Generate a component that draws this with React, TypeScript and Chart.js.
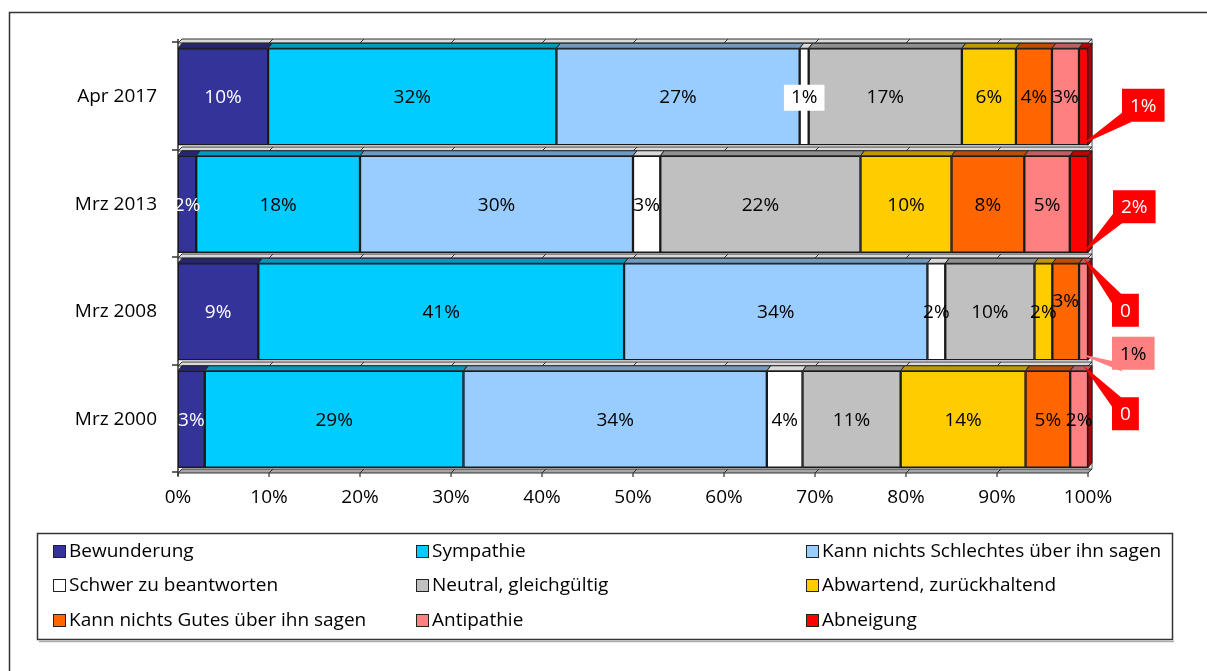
import { useEffect, useRef } from "react";
import { Chart, registerables } from "chart.js";

Chart.register(...registerables);

const categories = ["Apr 2017", "Mrz 2013", "Mrz 2008", "Mrz 2000"];

const seriesNames = [
  "Bewunderung",
  "Sympathie",
  "Kann nichts Schlechtes über ihn sagen",
  "Schwer zu beantworten",
  "Neutral, gleichgültig",
  "Abwartend, zurückhaltend",
  "Kann nichts Gutes über ihn sagen",
  "Antipathie",
  "Abneigung",
];

const seriesColors = [
  "#333399",
  "#00CCFF",
  "#99CCFF",
  "#FFFFFF",
  "#C0C0C0",
  "#FFCC00",
  "#FF6600",
  "#FF8080",
  "#FF0000",
];

// values per category (Apr 2017, Mrz 2013, Mrz 2008, Mrz 2000)
const bewunderung = [10, 2, 9, 3];
const sympathie = [32, 18, 41, 29];
const kannNichtsSchlechtes = [27, 30, 34, 34];
const schwerZuBeantworten = [1, 3, 2, 4];
const neutral = [17, 22, 10, 11];
const abwartend = [6, 10, 2, 14];
const kannNichtsGutes = [4, 8, 3, 5];
const antipathie = [3, 5, 1, 2];
const abneigung = [1, 2, 0, 0];

const seriesValues = [
  bewunderung,
  sympathie,
  kannNichtsSchlechtes,
  schwerZuBeantworten,
  neutral,
  abwartend,
  kannNichtsGutes,
  antipathie,
  abneigung,
];

const xTicks = [0, 10, 20, 30, 40, 50, 60, 70, 80, 90, 100];

const FONT = "'Open Sans', 'DejaVu Sans', sans-serif";

// callouts: series index, row index, box offset from bar right end / row center, anchor side
const callouts = [
  { s: 8, r: 0, dx: 34, dy: -8, anchor: "bottom" },
  { s: 8, r: 1, dx: 25, dy: -14, anchor: "bottom" },
  { s: 8, r: 2, dx: 24, dy: -18, anchor: "top" },
  { s: 7, r: 2, dx: 24, dy: 25, anchor: "bottom" },
  { s: 8, r: 3, dx: 24, dy: -22, anchor: "top" },
];
// labels with white background box
const boxedLabels = [{ s: 3, r: 0 }];
// labels moved vertically
const shiftedLabels = [{ s: 6, r: 2, dy: -11 }];

const legendCols = [53, 416, 806];
const legendRows = [552, 586, 621];

function fmt(v: number) {
  return v === 0 ? "0" : v + "%";
}

function darken(hex: string, f: number) {
  const n = parseInt(hex.slice(1), 16);
  const r = Math.round(((n >> 16) & 255) * f);
  const g = Math.round(((n >> 8) & 255) * f);
  const b = Math.round((n & 255) * f);
  return `rgb(${r},${g},${b})`;
}

const totals = categories.map((_, j) =>
  seriesValues.reduce((a, s) => a + s[j], 0)
);

const decorPlugin = {
  id: "decor",
  beforeDatasetsDraw(chart: any) {
    const { ctx, chartArea } = chart;
    const { left, right, top, bottom } = chartArea;
    const xs = chart.scales.x;
    const catH = (bottom - top) / categories.length;
    ctx.save();
    // outer frame (top and left edges, the rest is cut off)
    ctx.strokeStyle = "#333";
    ctx.lineWidth = 1.5;
    ctx.beginPath();
    ctx.moveTo(9.5, 671);
    ctx.lineTo(9.5, 12.5);
    ctx.lineTo(1207, 12.5);
    ctx.stroke();
    // back right edge
    ctx.strokeStyle = "#888";
    ctx.lineWidth = 1.5;
    ctx.beginPath();
    ctx.moveTo(right + 4, top - 4);
    ctx.lineTo(right + 4, bottom - 4);
    ctx.stroke();
    // strips at category boundaries
    for (let i = 0; i <= categories.length; i++) {
      const y = Math.round(top + i * catH);
      ctx.fillStyle = i === categories.length ? "#a6a6a6" : "#dadada";
      ctx.beginPath();
      ctx.moveTo(left, y);
      ctx.lineTo(left + 4, y - 4);
      ctx.lineTo(right + 4, y - 4);
      ctx.lineTo(right, y);
      ctx.closePath();
      ctx.fill();
      ctx.strokeStyle = "#333";
      ctx.lineWidth = 1;
      ctx.stroke();
      for (const t of xTicks) {
        const px = xs.getPixelForValue(t);
        ctx.beginPath();
        ctx.moveTo(px, y);
        ctx.lineTo(px + 4, y - 4);
        ctx.stroke();
      }
      // left tick
      ctx.lineWidth = 1.5;
      ctx.beginPath();
      ctx.moveTo(left - 6, y - 1);
      ctx.lineTo(left, y - 1);
      ctx.stroke();
    }
    // left axis line
    ctx.strokeStyle = "#333";
    ctx.lineWidth = 1.5;
    ctx.beginPath();
    ctx.moveTo(left, top - 4);
    ctx.lineTo(left, bottom + 3);
    ctx.stroke();
    // bottom ticks
    ctx.lineWidth = 1.2;
    for (const t of xTicks) {
      const px = xs.getPixelForValue(t);
      ctx.beginPath();
      ctx.moveTo(px, bottom);
      ctx.lineTo(px, bottom + 4);
      ctx.stroke();
    }
    ctx.restore();
  },
  afterDatasetsDraw(chart: any) {
    const { ctx } = chart;
    ctx.save();
    const d = 4;
    const h = 5;
    // top faces
    chart.data.datasets.forEach((ds: any, i: number) => {
      const meta = chart.getDatasetMeta(i);
      meta.data.forEach((el: any) => {
        const p = el.getProps(["x", "y", "base", "height"], true);
        const l = Math.min(p.base, p.x);
        const r = Math.max(p.base, p.x);
        if (r - l < 0.5) return;
        const t = p.y - p.height / 2;
        ctx.beginPath();
        ctx.moveTo(l, t);
        ctx.lineTo(l + d, t - h);
        ctx.lineTo(r + d, t - h);
        ctx.lineTo(r, t);
        ctx.closePath();
        ctx.fillStyle = darken(ds.backgroundColor, ds.backgroundColor === "#FFFFFF" ? 0.85 : 0.75);
        ctx.fill();
        ctx.strokeStyle = "#222";
        ctx.lineWidth = 1;
        ctx.stroke();
      });
    });
    // right side faces
    const lastMeta = chart.getDatasetMeta(chart.data.datasets.length - 1);
    lastMeta.data.forEach((el: any) => {
      const p = el.getProps(["x", "y", "height"], true);
      const t = p.y - p.height / 2;
      const b = p.y + p.height / 2;
      ctx.beginPath();
      ctx.moveTo(p.x, t);
      ctx.lineTo(p.x + d, t - h);
      ctx.lineTo(p.x + d, b - h);
      ctx.lineTo(p.x, b);
      ctx.closePath();
      ctx.fillStyle = "#b00000";
      ctx.fill();
      ctx.strokeStyle = "#222";
      ctx.lineWidth = 1;
      ctx.stroke();
    });

    // data labels
    ctx.font = `19px ${FONT}`;
    ctx.textAlign = "center";
    ctx.textBaseline = "middle";
    seriesValues.forEach((vals, s) => {
      const meta = chart.getDatasetMeta(s);
      vals.forEach((v, r) => {
        if (callouts.some((c) => c.s === s && c.r === r)) return;
        const p = meta.data[r].getProps(["x", "y", "base"], true);
        const cx = (p.x + p.base) / 2;
        const sh = shiftedLabels.find((c) => c.s === s && c.r === r);
        const cy = p.y + 1 + (sh ? sh.dy : 0);
        const txt = fmt(v);
        if (boxedLabels.some((c) => c.s === s && c.r === r)) {
          const w = ctx.measureText(txt).width + 14;
          ctx.fillStyle = "#fff";
          ctx.fillRect(cx - w / 2, cy - 13, w, 26);
        }
        ctx.fillStyle = s === 0 ? "#fff" : "#000";
        ctx.fillText(txt, cx, cy);
      });
    });

    // callouts
    callouts.forEach((c) => {
      const meta = chart.getDatasetMeta(c.s);
      const p = meta.data[c.r].getProps(["x", "y", "height"], true);
      const txt = fmt(seriesValues[c.s][c.r]);
      const tw = ctx.measureText(txt).width;
      const bw = tw + 16;
      const bh = 33;
      const bx = p.x + c.dx;
      const by = p.y + c.dy;
      const ax = p.x - 1;
      const ay = c.anchor === "bottom" ? p.y + p.height / 2 - 4 : p.y - p.height / 2 - 1;
      const color = seriesColors[c.s];
      const cornerY = ay < by ? by : by + bh;
      const p1 = { x: bx + 8, y: cornerY };
      const p2 = { x: bx, y: ay < by ? by + 8 : by + bh - 8 };
      ctx.fillStyle = color;
      ctx.beginPath();
      ctx.moveTo(p1.x, p1.y);
      ctx.lineTo(ax, ay);
      ctx.lineTo(p2.x, p2.y);
      ctx.closePath();
      ctx.fill();
      ctx.strokeStyle = color;
      ctx.lineWidth = 1.5;
      ctx.stroke();
      ctx.fillRect(bx, by, bw, bh);
      ctx.fillStyle = c.s === 8 ? "#fff" : "#000";
      ctx.fillText(txt, bx + bw / 2, by + bh / 2 + 1);
    });
    ctx.restore();
  },
  afterDraw(chart: any) {
    const { ctx } = chart;
    ctx.save();
    // legend box
    ctx.strokeStyle = "#333";
    ctx.lineWidth = 1.5;
    ctx.strokeRect(37.5, 533.5, 1135, 106);
    ctx.strokeStyle = "#aaa";
    ctx.beginPath();
    ctx.moveTo(39, 641.5);
    ctx.lineTo(1174, 641.5);
    ctx.stroke();
    ctx.font = `19px ${FONT}`;
    ctx.textAlign = "left";
    ctx.textBaseline = "middle";
    chart.data.datasets.forEach((ds: any, i: number) => {
      const x = legendCols[i % 3];
      const y = legendRows[Math.floor(i / 3)];
      ctx.fillStyle = ds.backgroundColor;
      ctx.fillRect(x + 0.5, y - 6.5, 12, 12);
      ctx.strokeStyle = "#222";
      ctx.lineWidth = 1;
      ctx.strokeRect(x + 0.5, y - 6.5, 12, 12);
      ctx.fillStyle = "#000";
      ctx.fillText(ds.label, x + 16, y);
    });
    ctx.restore();
  },
};

export default function App() {
  const ref = useRef<HTMLCanvasElement | null>(null);
  useEffect(() => {
    if (!ref.current) return;
    const chart = new Chart(ref.current, {
      type: "bar",
      data: {
        labels: categories,
        datasets: seriesValues.map((vals, i) => ({
          label: seriesNames[i],
          data: vals.map((v, j) => (v / totals[j]) * 100),
          backgroundColor: seriesColors[i],
          borderColor: "#1a1a1a",
          borderWidth: 1.5,
          borderSkipped: false,
          barThickness: 97,
        })),
      },
      options: {
        indexAxis: "y",
        responsive: false,
        animation: false,
        devicePixelRatio: 1,
        layout: { padding: { top: 43, right: 119, left: 0, bottom: 0 } },
        plugins: {
          legend: { display: false },
          tooltip: { enabled: false },
          title: { display: false },
        },
        scales: {
          x: {
            stacked: true,
            min: 0,
            max: 100,
            grid: { display: false, drawTicks: false },
            border: { display: false },
            ticks: {
              stepSize: 10,
              autoSkip: false,
              maxRotation: 0,
              padding: 13,
              color: "#000",
              font: { family: FONT, size: 19 },
              callback: (v: any) => v + "%",
            },
            afterFit: (scale: any) => {
              scale.height = 198;
            },
          },
          y: {
            stacked: true,
            grid: { display: false, drawTicks: false },
            border: { display: false },
            ticks: {
              padding: 21,
              color: "#000",
              font: { family: FONT, size: 19 },
            },
            afterFit: (scale: any) => {
              scale.width = 178;
            },
          },
        },
      } as any,
      plugins: [decorPlugin],
    });
    return () => chart.destroy();
  }, []);
  return (
    <div style={{ position: "fixed", left: 0, top: 0, width: 1207, height: 671, background: "#fff" }}>
      <canvas ref={ref} width={1207} height={671} style={{ display: "block", width: 1207, height: 671 }} />
    </div>
  );
}
